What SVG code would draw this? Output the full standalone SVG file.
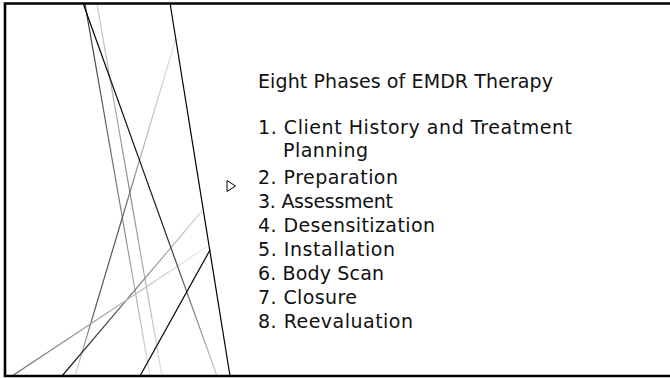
<svg xmlns="http://www.w3.org/2000/svg" width="670" height="378" viewBox="0 0 670 378">
  <style>
    .ln { fill: none; stroke-width: 1.2; }
    .t { font-family: "DejaVu Sans", "Liberation Sans", sans-serif; font-size: 19px; fill: #111; }
  </style>
  <defs>
    <linearGradient id="g1" gradientUnits="userSpaceOnUse" x1="83" y1="3" x2="217" y2="376">
      <stop offset="0" stop-color="#000"/><stop offset="0.6" stop-color="#222"/><stop offset="1" stop-color="#ccc"/>
    </linearGradient>
    <linearGradient id="g2" gradientUnits="userSpaceOnUse" x1="85" y1="4" x2="150" y2="376">
      <stop offset="0" stop-color="#333"/><stop offset="0.5" stop-color="#777"/><stop offset="1" stop-color="#ddd"/>
    </linearGradient>
    <linearGradient id="g3" gradientUnits="userSpaceOnUse" x1="97" y1="4" x2="162" y2="376">
      <stop offset="0" stop-color="#ccc"/><stop offset="0.5" stop-color="#888"/><stop offset="1" stop-color="#ddd"/>
    </linearGradient>
    <linearGradient id="g5" gradientUnits="userSpaceOnUse" x1="176" y1="38" x2="75" y2="376">
      <stop offset="0" stop-color="#e4e4e4"/><stop offset="0.3" stop-color="#bbb"/><stop offset="0.55" stop-color="#555"/><stop offset="0.8" stop-color="#555"/><stop offset="1" stop-color="#ddd"/>
    </linearGradient>
    <linearGradient id="g6" gradientUnits="userSpaceOnUse" x1="202" y1="211" x2="62" y2="376">
      <stop offset="0" stop-color="#ddd"/><stop offset="0.5" stop-color="#777"/><stop offset="1" stop-color="#111"/>
    </linearGradient>
    <linearGradient id="g7" gradientUnits="userSpaceOnUse" x1="208" y1="246" x2="12" y2="376">
      <stop offset="0" stop-color="#f0f0f0"/><stop offset="0.5" stop-color="#aaa"/><stop offset="1" stop-color="#666"/>
    </linearGradient>
  </defs>

  <g id="lines">
    <line class="ln" x1="85" y1="4" x2="150" y2="376" stroke="url(#g2)"/>
    <line class="ln" x1="97" y1="4" x2="162" y2="376" stroke="url(#g3)"/>
    <line class="ln" x1="176" y1="38" x2="75" y2="376" stroke="url(#g5)"/>
    <line class="ln" x1="202" y1="211" x2="62" y2="376" stroke="url(#g6)"/>
    <line class="ln" x1="208" y1="246" x2="12" y2="376" stroke="url(#g7)"/>
    <line class="ln" x1="83" y1="3" x2="217" y2="376" stroke="url(#g1)"/>
    <line class="ln" x1="170" y1="3" x2="230" y2="376" stroke="#000"/>
    <line class="ln" x1="210" y1="250" x2="140" y2="376" stroke="#000"/>
  </g>

  <g id="frame">
    <path d="M 670 3.5 H 5 V 376 H 670" fill="none" stroke="#000" stroke-width="2.6"/>
  </g>

  <g id="bullet">
    <polygon points="227,180.5 235.5,186 227,191.5" fill="none" stroke="#000" stroke-width="1"/>
  </g>

  <g id="text">
    <text class="t" x="258" y="87.5" textLength="295" lengthAdjust="spacing">Eight Phases of EMDR Therapy</text>
    <text class="t" x="258" y="134" textLength="314" lengthAdjust="spacing">1. Client History and Treatment</text>
    <text class="t" x="283" y="157" textLength="85" lengthAdjust="spacing">Planning</text>
    <text class="t" x="258" y="184" textLength="140" lengthAdjust="spacing">2. Preparation</text>
    <text class="t" x="258" y="208" textLength="135" lengthAdjust="spacing">3. Assessment</text>
    <text class="t" x="258" y="232" textLength="177" lengthAdjust="spacing">4. Desensitization</text>
    <text class="t" x="258" y="256" textLength="137" lengthAdjust="spacing">5. Installation</text>
    <text class="t" x="258" y="280" textLength="126" lengthAdjust="spacing">6. Body Scan</text>
    <text class="t" x="258" y="304" textLength="99" lengthAdjust="spacing">7. Closure</text>
    <text class="t" x="258" y="328" textLength="155" lengthAdjust="spacing">8. Reevaluation</text>
  </g>
</svg>
